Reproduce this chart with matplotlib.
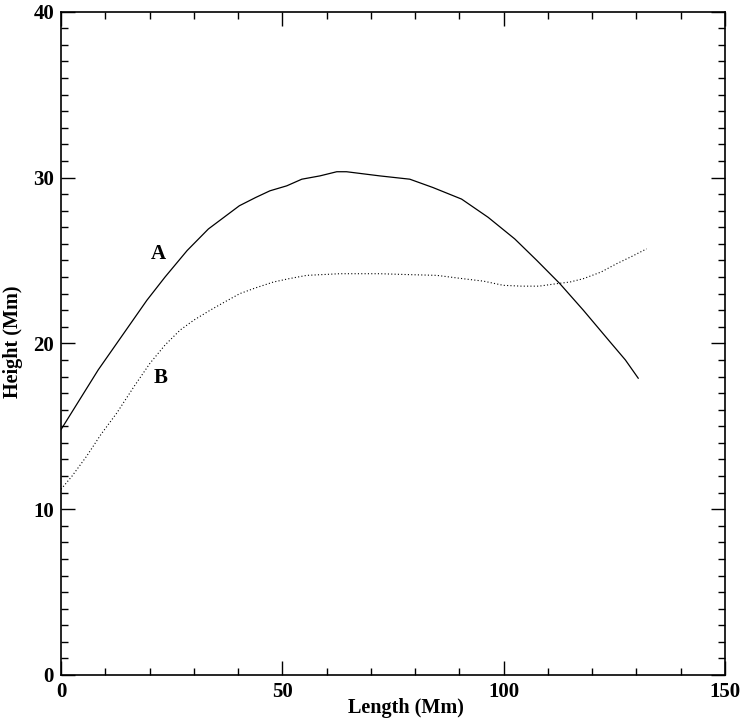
import matplotlib
matplotlib.use("Agg")
import matplotlib.pyplot as plt
from matplotlib.ticker import MultipleLocator

# loop A (solid) and loop B (dotted): length along loop vs height, in Mm
len_a = [0, 8.4, 19.4, 23.5, 28.5, 33.3, 40.3, 44.0, 47.2, 51.0, 54.4, 58.5,
         62.3, 64.5, 72.0, 78.8, 84.0, 90.5, 96.5, 102.5, 107.5, 112.7, 118.0,
         124.0, 127.5, 130.4]
hgt_a = [14.8, 18.4, 22.6, 24.0, 25.6, 26.9, 28.3, 28.8, 29.2, 29.5, 29.9, 30.1,
         30.35, 30.35, 30.1, 29.9, 29.4, 28.7, 27.6, 26.3, 25.0, 23.6, 22.0,
         20.1, 19.0, 17.9]

len_b = [0, 2.5, 5.8, 9.0, 12.6, 16.5, 20.1, 23.5, 26.9, 30.0, 33.7, 37.0, 40.4,
         44.0, 48.0, 51.5, 55.5, 63.0, 72.0, 78.0, 84.9, 90.8, 95.5, 99.9, 104.0,
         108.0, 112.0, 115.0, 118.0, 122.0, 125.5, 129.0, 132.3]
hgt_b = [11.2, 12.0, 13.2, 14.5, 15.8, 17.4, 18.8, 19.9, 20.8, 21.4, 22.0, 22.5,
         23.0, 23.35, 23.7, 23.9, 24.1, 24.2, 24.2, 24.15, 24.1, 23.9, 23.75, 23.5,
         23.45, 23.45, 23.6, 23.7, 23.9, 24.3, 24.8, 25.25, 25.7]

label_a = ("A", 22.1, 25.4)
label_b = ("B", 22.5, 17.9)

plt.rcParams["font.family"] = ["Liberation Serif", "DejaVu Serif"]
plt.rcParams["font.weight"] = "bold"

fig = plt.figure(figsize=(7.46, 7.19), dpi=100)
ax = fig.add_axes([0.0818, 0.0612, 0.8900, 0.9225])

ax.plot(len_a, hgt_a, color="black", lw=0.9)
ax.plot(len_b, hgt_b, color="black", lw=0.8, linestyle=(0, (1, 2)))

for txt, x, y in (label_a, label_b):
    ax.text(x, y, txt, fontsize=15, fontweight="bold", ha="center", va="center")

ax.set_xlim(0, 150)
ax.set_ylim(0, 40)
ax.xaxis.set_major_locator(MultipleLocator(50))
ax.xaxis.set_minor_locator(MultipleLocator(10))
ax.yaxis.set_major_locator(MultipleLocator(10))
ax.yaxis.set_minor_locator(MultipleLocator(1))

ax.tick_params(which="both", direction="in", top=True, right=True,
               labelsize=15, width=1.0, pad=5)
ax.tick_params(which="major", length=10)
ax.tick_params(which="minor", length=5)
for lab in ax.get_xticklabels() + ax.get_yticklabels():
    lab.set_fontweight("bold")
for sp in ax.spines.values():
    sp.set_linewidth(1.2)

# axis titles placed in figure coordinates so they stay inside the canvas
fig.text(0.544, 0.0083, "Length (Mm)", fontsize=14.5, fontweight="bold",
         ha="center", va="baseline")
fig.text(0.0175, 0.524, "Height (Mm)", fontsize=14.5, fontweight="bold",
         ha="center", va="center", rotation=90)

fig.savefig("out.png", dpi=100)
